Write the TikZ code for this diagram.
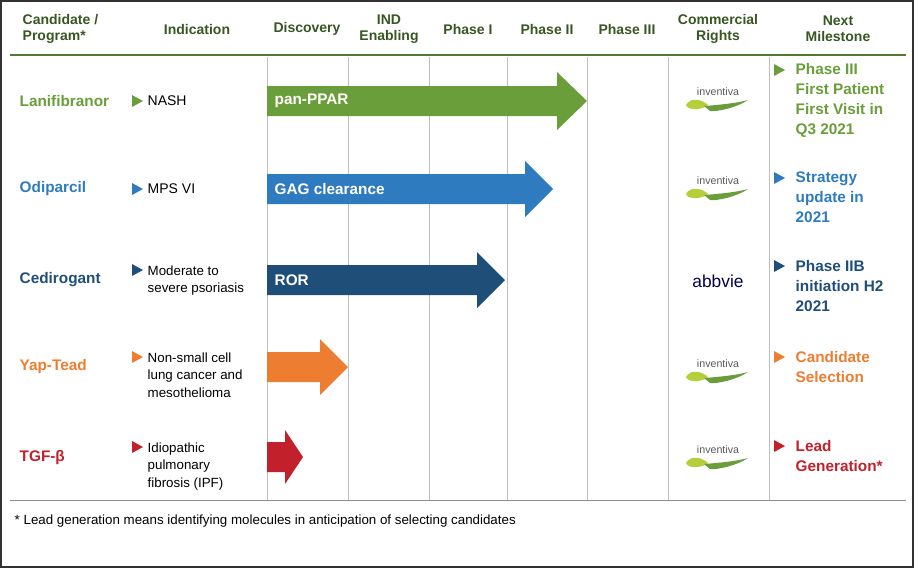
\documentclass[tikz,border=0pt]{standalone}
\usepackage{fontspec}
\setmainfont{Liberation Sans}
\usepackage{tikz}
\usetikzlibrary{calc,positioning}
\definecolor{lanigreen}{HTML}{6A9E3A}
\definecolor{odiblue}{HTML}{2E7BC0}
\definecolor{cedblue}{HTML}{1F4E79}
\definecolor{yaporange}{HTML}{ED7D31}
\definecolor{tgfred}{HTML}{C2202B}
\definecolor{rulegreen}{HTML}{4E7B2F}
\definecolor{leafgreen}{HTML}{B5CF3A}
\newcommand{\pipearrow}[6]{
	\fill[#1] (267,#2-15) -- (#3,#2-15) -- (#3,#2-#5) -- (#4,#2) -- (#3,#2+#5) -- (#3,#2+15) -- (267,#2+15) -- cycle;
	\node[anchor=west, text=white, font=\bfseries\fontsize{11.5}{13}\selectfont] at (270,#2) {#6};
}
\newcommand{\marker}[3]{
	\fill[#1] (#2,#3-6) -- (#2+11,#3) -- (#2,#3+6) -- cycle;
}
\newcommand{\inventiva}[2]{
	\coordinate (#1) at (#2);
	\node[text=black!65, font=\fontsize{8}{9}\selectfont] (#1t) at ($(#1)+(0,-5)$) {inventiva};
	\fill[leafgreen] ($(#1)+(-32,8)$) .. controls ($(#1)+(-28,0)$) and ($(#1)+(-16,2)$) .. ($(#1)+(-10,8)$) .. controls ($(#1)+(-16,13)$) and ($(#1)+(-30,14)$) .. cycle;
	\fill[lanigreen] ($(#1)+(-14,9)$) .. controls ($(#1)+(0,8)$) and ($(#1)+(20,6)$) .. ($(#1)+(30,3)$) .. controls ($(#1)+(20,10)$) and ($(#1)+(0,15)$) .. ($(#1)+(-8,14)$) -- cycle;
}

\begin{document}
\begin{tikzpicture}[x=0.75pt,y=-0.75pt,
	head/.style={font=\bfseries\fontsize{10.5}{12}\selectfont, text=rulegreen!70!black, align=center},
	cand/.style={font=\bfseries\fontsize{11.5}{13}\selectfont, anchor=west},
	indic/.style={font=\fontsize{10.5}{13}\selectfont, anchor=west, align=left},
	mile/.style={font=\bfseries\fontsize{11.5}{15}\selectfont, anchor=north west, align=left}]
	\useasboundingbox (0,0) rectangle (914,568);
	\draw[black!80, line width=1.2pt] (1,1) rectangle (913,567);

	% header
	\node[head, anchor=west, align=left] (hcand) at (18,29) {Candidate /\\Program*};
	\node[head] (hind) at (197,29) {Indication};
	\node[head] (hdisc) at (307,29) {Discovery};
	\node[head] (hind2) at (389,29) {IND\\Enabling};
	\node[head] (hp1) at (468,29) {Phase I};
	\node[head] (hp2) at (547,29) {Phase II};
	\node[head] (hp3) at (627,29) {Phase III};
	\node[head] (hcom) at (718,29) {Commercial\\Rights};
	\node[head] (hnext) at (838,29) {Next\\Milestone};
	\draw[rulegreen, line width=2pt] (10,55) -- (906,55);

	% grid
	\foreach \gx in {267,348,429,507,587,668,769}
		\draw[black!25, line width=0.7pt] (\gx,57) -- (\gx,500);
	\draw[black!45, line width=0.7pt] (10,500) -- (906,500);

	% lanifibranor
	\node[cand, text=lanigreen] (lani) at (15,101) {Lanifibranor};
	\marker{lanigreen}{132}{101}
	\node[indic] (nash) at (143,101) {NASH};
	\pipearrow{lanigreen}{101}{557}{587}{29}{pan-PPAR}
	\inventiva{inv1}{718,97}
	\marker{lanigreen}{774}{70}
	\node[mile, text=lanigreen] (m1) at (791,59) {Phase III\\First Patient\\First Visit in\\Q3 2021};

	% odiparcil
	\node[cand, text=odiblue] (odi) at (15,189) {Odiparcil};
	\marker{odiblue}{132}{189}
	\node[indic] (mps) at (143,189) {MPS VI};
	\pipearrow{odiblue}{189}{525}{553}{28}{GAG clearance}
	\inventiva{inv2}{718,186}
	\marker{odiblue}{774}{178}
	\node[mile, text=odiblue] (m2) at (791,167) {Strategy\\update in\\2021};

	% cedirogant
	\node[cand, text=cedblue] (ced) at (15,280) {Cedirogant};
	\marker{cedblue}{132}{270}
	\node[indic, anchor=north west, font=\fontsize{10}{13}\selectfont] (pso) at (143,261) {Moderate to\\severe psoriasis};
	\pipearrow{cedblue}{280}{477}{505}{28}{ROR}
	\node[text=black!70!blue, font=\fontsize{13}{14}\selectfont] (abb) at (718,281) {abbvie};
	\marker{cedblue}{774}{266}
	\node[mile, text=cedblue] (m3) at (791,256) {Phase IIB\\initiation H2\\2021};

	% yap-tead
	\node[cand, text=yaporange] (yap) at (15,367) {Yap-Tead};
	\marker{yaporange}{132}{357}
	\node[indic, anchor=north west, font=\fontsize{10}{13}\selectfont] (nsclc) at (143,348) {Non-small cell\\lung cancer and\\mesothelioma};
	\pipearrow{yaporange}{367}{320}{348}{28}{}
	\inventiva{inv4}{718,369}
	\marker{yaporange}{774}{357}
	\node[mile, text=yaporange] (m4) at (791,347) {Candidate\\Selection};

	% tgf-beta
	\node[cand, text=tgfred] (tgf) at (15,458) {TGF-β};
	\marker{tgfred}{132}{447}
	\node[indic, anchor=north west, font=\fontsize{10}{13}\selectfont] (ipf) at (143,438) {Idiopathic\\pulmonary\\fibrosis (IPF)};
	\pipearrow{tgfred}{457}{285}{303}{27}{}
	\inventiva{inv5}{718,455}
	\marker{tgfred}{774}{446}
	\node[mile, text=tgfred] (m5) at (791,436) {Lead\\Generation*};

	\node[anchor=west, font=\fontsize{10}{12}\selectfont] (foot) at (10,521) {* Lead generation means identifying molecules in anticipation of selecting candidates};
\end{tikzpicture}
\end{document}
